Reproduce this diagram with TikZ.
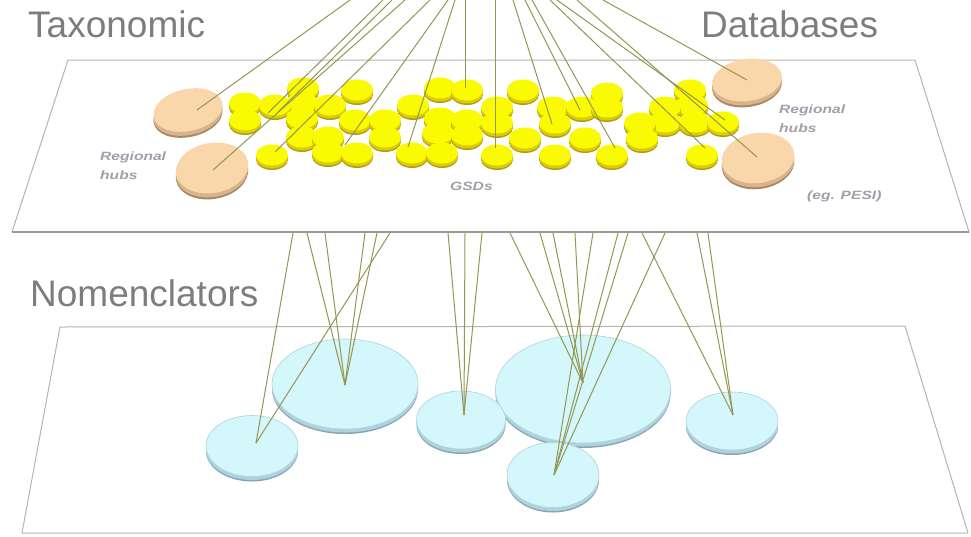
\documentclass[tikz,border=0pt]{standalone}
\usepackage{fontspec}
\setmainfont{Liberation Sans}
\usetikzlibrary{shapes.geometric,shadows}
\definecolor{lbl}{RGB}{125,125,125}
\definecolor{sml}{RGB}{160,160,170}
\definecolor{planeline}{RGB}{180,180,180}
\definecolor{link}{RGB}{150,150,80}
\definecolor{ytop}{RGB}{250,250,0}
\definecolor{yside}{RGB}{220,205,0}
\definecolor{ydark}{RGB}{175,155,30}
\definecolor{ttop}{RGB}{249,215,170}
\definecolor{tside}{RGB}{215,180,140}
\definecolor{tdark}{RGB}{170,135,100}
\definecolor{ctop}{RGB}{212,247,251}
\definecolor{cside}{RGB}{175,210,220}
\definecolor{cdark}{RGB}{135,165,180}
\tikzset{
  x=1pt, y=-1pt,
  disc/.style={ellipse, inner sep=0pt, outer sep=0pt},
  ydisc/.style={disc, minimum width=32pt, minimum height=21pt, fill=ytop,
    general shadow={fill=ydark, shadow yshift=-4.5pt},
    general shadow={fill=yside, shadow yshift=-3pt}},
  tdisc/.style={disc, fill=ttop,
    general shadow={fill=tdark, shadow yshift=-6pt},
    general shadow={fill=tside, shadow yshift=-4pt}},
  cdisc/.style={disc, fill=ctop, draw=cside, line width=0.6pt,
    general shadow={fill=cdark, shadow yshift=-5pt},
    general shadow={fill=cside, shadow yshift=-3.5pt}},
  link/.style={draw=link, line width=1pt},
  biglabel/.style={anchor=base west, inner sep=0pt, text=lbl, font=\fontsize{37}{40}\selectfont},
  smalllabel/.style={anchor=west, inner sep=0pt, text=sml, font=\fontsize{12}{13}\selectfont\bfseries\itshape},
  plane/.style={draw=planeline, fill=white, line width=1pt, line join=round}
}
\newcommand\wide[1]{\scalebox{1.3}[1]{#1}}
\begin{document}
\begin{tikzpicture}
\useasboundingbox (0,0) rectangle (971,536);
% ---------- lower plane ----------
\path[plane] (60,327) -- (905,326) -- (968,533) -- (22,533) -- cycle;
% nomenclator discs
\node[cdisc, minimum width=146pt, minimum height=90pt] (c2) at (345,384) {};
\node[cdisc, minimum width=175pt, minimum height=108pt] (c4) at (583,389) {};
\node[cdisc, minimum width=89pt, minimum height=58pt] (c3) at (461,420) {};
\node[cdisc, minimum width=92pt, minimum height=58pt] (c6) at (732,421) {};
\node[cdisc, minimum width=92pt, minimum height=61pt] (c1) at (252,446) {};
\node[cdisc, minimum width=92pt, minimum height=65pt] (c5) at (553,475) {};
% line end points on nomenclators
\coordinate (e1) at (256,443);
\coordinate (e2) at (345,385);
\coordinate (e3) at (464,415);
\coordinate (e4) at (583,383);
\coordinate (e5) at (554,475);
\coordinate (e6) at (733,415);
% line starts under the upper plane
\foreach \n/\x in {b1/293,b2/307,b3/325,b4/365,b5/377,b6/390,b7/448,b8/465,b9/482,
  b10/510,b11/540,b12/553,b13/575,b14/593,b15/618,b16/628,b17/665,b18/642,b19/697,b20/708}
  \coordinate (\n) at (\x,233);
\foreach \a/\b in {b1/e1,b6/e1,b2/e2,b3/e2,b4/e2,b5/e2,b7/e3,b8/e3,b9/e3,
  b10/e4,b11/e4,b12/e4,b13/e4,b14/e5,b15/e5,b16/e5,b17/e5,b18/e6,b19/e6,b20/e6}
  \draw[link] (\a) -- (\b);
% ---------- upper plane ----------
\path[plane] (12,232) -- (68,60) -- (915,60) -- (969,232) -- cycle;
\draw[planeline!85!black, line width=1.4pt] (12,232) -- (969,232);
% regional hubs
\node[tdisc, minimum width=70pt, minimum height=42pt, rotate=12] (l1) at (188,110) {};
\node[tdisc, minimum width=73pt, minimum height=50pt, rotate=10] (l2) at (212,168) {};
\node[tdisc, minimum width=70pt, minimum height=42pt, rotate=8] (r1) at (747,80) {};
\node[tdisc, minimum width=73pt, minimum height=50pt, rotate=8] (r2) at (758,158) {};
% GSD discs (back to front)
\foreach \x/\y [count=\i] in {
  303/88, 440/88, 357/90, 467/90, 523/90, 690/90, 607/93,
  245/103, 302/103, 275/105, 330/105, 413/105, 692/105, 497/107, 553/107, 582/107, 607/107, 665/107,
  302/118, 440/118, 245/120, 355/120, 385/120, 467/120, 665/122, 695/122, 723/122, 497/123, 555/123, 640/123,
  438/133, 467/135, 302/137, 328/137, 385/137, 525/138, 585/138, 642/138,
  328/152, 357/153, 412/153, 442/153, 272/155, 497/155, 555/155, 612/155, 702/155}
  \node[ydisc] (g\i) at (\x,\y) {};
% link ends on upper plane
\coordinate (u1) at (197,110);
\coordinate (u2) at (268,113);
\coordinate (u3) at (278,112);
\coordinate (u4) at (213,170);
\coordinate (u5) at (275,152);
\coordinate (u6) at (345,145);
\coordinate (u7) at (408,147);
\coordinate (u8) at (465,88);
\coordinate (u9) at (495,148);
\coordinate (u10) at (552,124);
\coordinate (u11) at (580,110);
\coordinate (u12) at (615,148);
\coordinate (u13) at (705,148);
\coordinate (u14) at (725,120);
\coordinate (u15) at (757,157);
\coordinate (u16) at (747,80);
\foreach \n/\x in {t1/350,t2/383,t3/392,t4/405,t5/430,t6/448,t7/455,t8/465,
  t9/495,t10/513,t11/525,t12/532,t13/550,t14/557,t15/577,t16/603}
  \coordinate (\n) at (\x,0);
\foreach \i in {1,...,16}
  \draw[link] (t\i) -- (u\i);
% ---------- labels ----------
\node[biglabel] (tax) at (28,37) {Taxonomic};
\node[biglabel] (db) at (701,37) {Databases};
\node[biglabel] (nom) at (30,306) {Nomenclators};
\node[smalllabel] (rh1) at (100,157) {\wide{Regional}};
\node[smalllabel] (rh1b) at (100,175) {\wide{hubs}};
\node[smalllabel] (rh2) at (779,110) {\wide{Regional}};
\node[smalllabel] (rh2b) at (779,128) {\wide{hubs}};
\node[smalllabel] (gsd) at (450,186) {\wide{GSDs}};
\node[smalllabel] (pesi) at (807,196) {\wide{(eg. PESI)}};
\end{tikzpicture}
\end{document}
